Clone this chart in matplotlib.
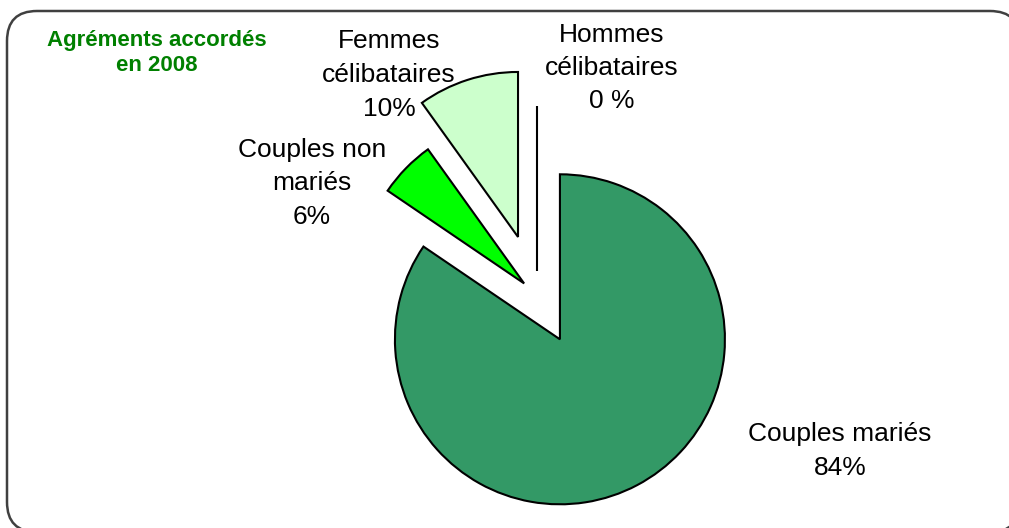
import matplotlib
matplotlib.use("Agg")
import matplotlib.pyplot as plt
from matplotlib.patches import FancyBboxPatch

plt.rcParams['font.family'] = ['Liberation Sans', 'DejaVu Sans']

# ---- data ----
categories = ["Couples mariés", "Couples non\nmariés", "Femmes\ncélibataires", "Hommes\ncélibataires"]
shares = [84.5, 5.6, 9.9, 0.0]
pct_labels = ["84%", "6%", "10%", "0 %"]
colors = ["#339966", "#00FF00", "#CCFFCC", "#99CC00"]

W, H = 1009, 528
fig = plt.figure(figsize=(W / 100, H / 100), dpi=100)
ax = fig.add_axes([0, 0, 1, 1])

# pie drawn in pixel-like units (y up)
ax.pie(
    shares,
    colors=colors,
    explode=[49, 18, 62, 25],
    startangle=90,
    counterclock=False,
    center=(537, H - 296),
    radius=165,
    frame=True,
    wedgeprops=dict(edgecolor="black", linewidth=1.5, zorder=2),
)
ax.set_xlim(0, W)
ax.set_ylim(0, H)
ax.set_aspect("equal")
ax.axis("off")

# labels: (x, y from top)
label_pos = [(840, 451), (312, 183), (389, 75), (612, 68)]
for name, pct, (lx, ly) in zip(categories, pct_labels, label_pos):
    ax.text(lx, H - ly, f"{name}\n{pct}", ha="center", va="center",
            fontsize=19, color="black", linespacing=1.5)

# green caption
ax.text(157, H - 53, "Agréments accordés\nen 2008", ha="center", va="center",
        fontsize=16, fontweight="bold", color="#008000", linespacing=1.2)

# rounded frame, partly cut by the image border (filled so Agg does not clip the curve)
frame = FancyBboxPatch((7, H - 532), 1013, 532 - 11, boxstyle="round,pad=0,rounding_size=30",
                       facecolor="white", edgecolor="#404040", linewidth=1.8,
                       clip_on=False, zorder=0)
ax.add_patch(frame)

fig.savefig("out.png", dpi=100)
